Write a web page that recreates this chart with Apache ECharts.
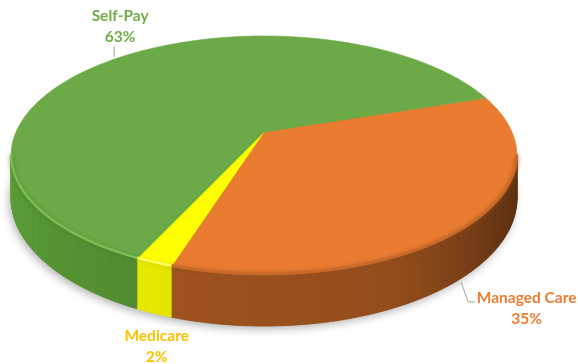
<!DOCTYPE html>
<html><head><meta charset="utf-8">
<script src="https://cdn.jsdelivr.net/npm/echarts@6/dist/echarts.min.js"></script>
<style>html,body{margin:0;padding:0;background:#fff}#chart{width:578px;height:364px}</style>
</head><body><div id="chart"></div>
<script>
// Payer mix
const categories = ['Managed Care', 'Medicare', 'Self-Pay'];
const shares = [35, 2, 63];
const sliceColors = ['#E97C31', '#FFFF00', '#6CA947'];
const wallColors = ['#A0541E', '#E6E600', '#508A30'];
const rimColors = ['#C8682A', '#FFFF70', '#80C454'];
const labelColors = ['#ED7D31', '#FFC000', '#70AD47'];

// Tilted disc seen in perspective: angle 0 = far edge, clockwise
const disc = { cx: 264, cy: 132, rx: 248, ry: 114.9, persp: 0.1967, depth: 41, startAngle: 71.7 };

// Wall brightness around the rim (lit from the front-left)
const wallLight = [[90, 0.52], [100, 0.55], [125, 0.66], [155, 0.92], [200, 1.0], [260, 1.16], [280, 1.16]];

// Label offsets relative to the slice's rim point (top rim or bottom rim)
const labelPlacement = [
  { at: 'bottom', dx: 58, dy: 35.5, leader: [[-7.5, 8.5], [-0.5, 28.5], [6.5, 28.5]] },
  { at: 'bottom', dx: 3, dy: 33, leader: null },
  { at: 'top', dx: 0, dy: -30.5, leader: [[-6, 0], [-6, -11]] }
];

const RAD = Math.PI / 180;
function proj(deg, h) {
  const u = Math.sin(deg * RAD), v = Math.cos(deg * RAD);
  const w = 1 + disc.persp * v;
  return [disc.cx + disc.rx * u / w, disc.cy - disc.ry * v / w + h * disc.depth / w];
}
function hexRgb(hex) {
  const n = parseInt(hex.slice(1), 16);
  return [(n >> 16) & 255, (n >> 8) & 255, n & 255];
}
function shade(hex, f) {
  const c = hexRgb(hex).map(x => Math.max(0, Math.min(255, Math.round(x * f))));
  return 'rgb(' + c.join(',') + ')';
}
function lightAt(deg) {
  let d = ((deg % 360) + 360) % 360;
  for (let i = 1; i < wallLight.length; i++) {
    const [a, fa] = wallLight[i - 1], [b, fb] = wallLight[i];
    if (d <= b) return d <= a ? fa : fa + (fb - fa) * (d - a) / (b - a);
  }
  return wallLight[wallLight.length - 1][1];
}
function arc(a, b, h) {
  const pts = [];
  const n = Math.max(1, Math.ceil(Math.abs(b - a)));
  for (let i = 0; i <= n; i++) pts.push(proj(a + (b - a) * i / n, h));
  return pts;
}
const visLo = 180 - Math.acos(disc.persp) / RAD;   // silhouette tangent points
const visHi = 180 + Math.acos(disc.persp) / RAD;

const total = shares.reduce((s, v) => s + v, 0);

function renderItem(params, api) {
  const idx = params.dataIndex;
  const value = api.value(0);
  let before = 0;
  for (let i = 0; i < idx; i++) before += shares[i];
  const a0 = disc.startAngle + before / total * 360;
  const a1 = a0 + value / total * 360;
  const color = sliceColors[idx];
  const children = [];

  // soft shadow under the disc (drawn once)
  if (idx === 0) {
    children.push({
      type: 'polygon', z2: 0,
      shape: { points: arc(0, 360, 1) },
      style: { fill: '#888', shadowBlur: 9, shadowColor: 'rgba(0,0,0,0.3)', shadowOffsetX: -2, shadowOffsetY: 3 }
    });
  }

  // visible part of the outer wall
  [[a0, a1], [a0 - 360, a1 - 360]].forEach(([s, e]) => {
    const lo = Math.max(s, visLo), hi = Math.min(e, visHi);
    if (hi <= lo) return;
    const n = Math.ceil(hi - lo);
    for (let i = 0; i < n; i++) {
      const p = lo + (hi - lo) * i / n, q = lo + (hi - lo) * (i + 1) / n;
      const c = shade(wallColors[idx], lightAt((p + q) / 2));
      children.push({
        type: 'polygon', z2: 2,
        shape: { points: [proj(p, 0), proj(q, 0), proj(q, 1), proj(p, 1)] },
        style: { fill: c, stroke: c, lineWidth: 0.8 }
      });
    }
    // rounded bevel along the front rim
    children.push({
      type: 'polyline', z2: 6,
      shape: { points: arc(lo, hi, 0).map(pt => [pt[0], pt[1] - 1.2]) },
      style: { fill: null, stroke: rimColors[idx], lineWidth: 2.5, opacity: 0.85,
               shadowBlur: 4, shadowColor: shade(wallColors[idx], 0.9), shadowOffsetY: 1 }
    });
  });

  // top face
  children.push({
    type: 'polygon', z2: 5,
    shape: { points: [[disc.cx, disc.cy]].concat(arc(a0, a1, 0)) },
    style: { fill: color, stroke: color, lineWidth: 0.6 }
  });

  // data label
  const mid = (a0 + a1) / 2;
  const pl = labelPlacement[idx];
  const anchor = proj(mid, pl.at === 'bottom' ? 1 : 0);
  if (pl.leader) {
    children.push({
      type: 'polyline', z2: 8,
      shape: { points: pl.leader.map(d => [anchor[0] + d[0], anchor[1] + d[1]]) },
      style: { fill: null, stroke: '#A6A6A6', lineWidth: 1 }
    });
  }
  children.push({
    type: 'text', z2: 9,
    style: {
      text: categories[idx] + '\n' + Math.round(value / total * 100) + '%',
      x: anchor[0] + pl.dx, y: anchor[1] + pl.dy,
      align: 'center', verticalAlign: 'middle',
      font: 'bold 15.5px Lato', lineHeight: 21, fill: labelColors[idx]
    }
  });
  return { type: 'group', children };
}

const chart = echarts.init(document.getElementById('chart'), null, { renderer: 'canvas' });
chart.setOption({
  backgroundColor: '#ffffff',
  animation: false,
  series: [{
    type: 'custom',
    coordinateSystem: 'none',
    renderItem,
    data: shares.map((v, i) => ({ name: categories[i], value: [v] }))
  }]
});
</script></body></html>
